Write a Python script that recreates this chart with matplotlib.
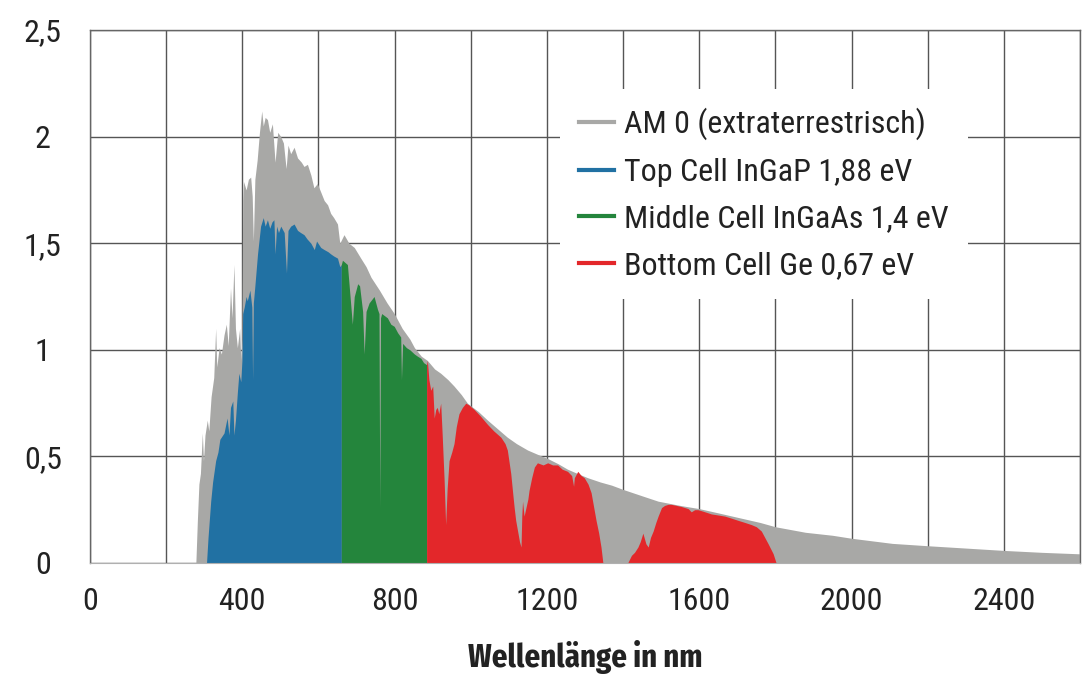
import matplotlib
matplotlib.use('Agg')
import matplotlib.pyplot as plt
from matplotlib.lines import Line2D

# AM0-Spektrum (grau)
am0_wl = [278, 282, 286, 290, 295, 298, 302, 308, 312, 318, 325, 330, 333, 339, 345,
          352, 358, 363, 369, 373, 378, 382, 387, 393, 396, 399, 401, 403, 410, 416,
          422, 426, 429, 433, 439, 445, 451, 455, 460, 466, 472, 479, 486, 493, 501,
          508, 515, 520, 527, 536, 545, 555, 562, 571, 580, 588, 597, 606, 615, 624,
          632, 640, 650, 656, 667, 680, 694, 711, 725, 738, 760, 780, 799, 820, 840,
          852, 870, 886, 905, 921, 940, 956, 975, 991, 1020, 1044, 1070, 1096, 1120,
          1149, 1175, 1202, 1230, 1254, 1280, 1307, 1340, 1370, 1400, 1450, 1492,
          1550, 1600, 1650, 1711, 1760, 1800, 1879, 1950, 2000, 2107, 2200, 2300,
          2400, 2500, 2600]
am0_val = [0.0, 0.20, 0.37, 0.42, 0.61, 0.48, 0.60, 0.67, 0.62, 0.78, 0.87, 1.10, 0.92,
           1.01, 0.98, 1.07, 1.12, 1.02, 1.29, 1.15, 1.40, 1.10, 1.01, 1.10, 0.95, 1.05,
           1.70, 1.79, 1.75, 1.80, 1.81, 1.72, 1.51, 1.80, 1.89, 2.02, 2.12, 2.05, 2.09,
           2.08, 2.02, 2.06, 1.88, 2.02, 2.00, 1.97, 1.85, 1.96, 1.92, 1.95, 1.90, 1.88,
           1.86, 1.87, 1.82, 1.76, 1.78, 1.74, 1.70, 1.68, 1.64, 1.62, 1.59, 1.50, 1.54,
           1.50, 1.48, 1.43, 1.39, 1.34, 1.28, 1.22, 1.17, 1.10, 1.05, 1.01, 0.97, 0.95,
           0.91, 0.89, 0.86, 0.83, 0.79, 0.75, 0.71, 0.67, 0.63, 0.59, 0.56, 0.53, 0.51,
           0.49, 0.465, 0.44, 0.42, 0.40, 0.38, 0.365, 0.345, 0.315, 0.29, 0.27, 0.255,
           0.235, 0.21, 0.19, 0.17, 0.144, 0.13, 0.116, 0.092, 0.081, 0.07, 0.059, 0.05,
           0.043]

# Top Cell InGaP (blau)
top_wl = [306, 310, 317, 322, 330, 336, 341, 352, 360, 365, 369, 375, 378, 382, 387,
          391, 396, 399, 401, 405, 410, 413, 420, 425, 427, 429, 433, 440, 448, 455,
          460, 466, 472, 478, 483, 486, 490, 495, 501, 510, 516, 520, 527, 536, 545,
          553, 562, 570, 580, 589, 595, 606, 615, 625, 632, 640, 650, 656, 660]
top_val = [0.0, 0.12, 0.29, 0.38, 0.48, 0.52, 0.58, 0.61, 0.68, 0.60, 0.73, 0.76, 0.60,
           0.67, 0.80, 0.89, 0.85, 0.95, 1.17, 1.20, 1.25, 1.23, 1.28, 1.20, 0.86, 1.22,
           1.30, 1.45, 1.58, 1.62, 1.58, 1.61, 1.57, 1.60, 1.61, 1.45, 1.58, 1.55, 1.58,
           1.55, 1.36, 1.56, 1.58, 1.59, 1.56, 1.55, 1.54, 1.52, 1.50, 1.47, 1.51, 1.48,
           1.47, 1.46, 1.45, 1.44, 1.43, 1.39, 1.40]

# Middle Cell InGaAs (gruen)
mid_wl = [660, 663, 676, 683, 689, 694, 703, 708, 716, 720, 725, 733, 746, 755, 759,
          761, 763, 766, 781, 790, 799, 808, 816, 818, 821, 831, 840, 852, 860, 869,
          876, 884]
mid_val = [1.40, 1.42, 1.40, 1.25, 1.12, 1.25, 1.31, 1.30, 1.18, 0.98, 1.18, 1.22, 1.25,
           1.19, 1.17, 0.26, 1.15, 1.17, 1.15, 1.12, 1.11, 1.08, 1.06, 0.86, 1.03, 1.01,
           1.00, 0.98, 0.97, 0.96, 0.94, 0.93]

# Bottom Cell Ge (rot)
bot_wl = [884, 886, 890, 895, 900, 904, 908, 912, 916, 921, 925, 930, 934, 938, 943,
          950, 956, 962, 969, 978, 987, 996, 1009, 1025, 1044, 1060, 1079, 1090, 1096,
          1105, 1110, 1114, 1118, 1123, 1128, 1132, 1134, 1136, 1140, 1145, 1150, 1153,
          1160, 1167, 1175, 1190, 1202, 1215, 1228, 1240, 1254, 1265, 1270, 1272, 1281,
          1290, 1298, 1308, 1316, 1322, 1329, 1336, 1342, 1347, 1412, 1422, 1430, 1439,
          1445, 1452, 1460, 1466, 1472, 1479, 1486, 1492, 1501, 1509, 1518, 1527, 1540,
          1553, 1562, 1571, 1579, 1588, 1597, 1615, 1632, 1650, 1667, 1685, 1702, 1720,
          1737, 1750, 1763, 1772, 1781, 1794, 1802]
bot_val = [0.93, 0.95, 0.86, 0.81, 0.83, 0.68, 0.72, 0.73, 0.70, 0.75, 0.60, 0.39, 0.18,
           0.35, 0.48, 0.52, 0.56, 0.64, 0.70, 0.73, 0.75, 0.74, 0.72, 0.69, 0.65, 0.62,
           0.59, 0.56, 0.53, 0.42, 0.33, 0.26, 0.20, 0.15, 0.10, 0.075, 0.22, 0.29, 0.22,
           0.26, 0.30, 0.34, 0.40, 0.45, 0.47, 0.46, 0.47, 0.46, 0.46, 0.44, 0.43, 0.41,
           0.36, 0.40, 0.43, 0.41, 0.40, 0.37, 0.33, 0.27, 0.20, 0.14, 0.075, 0.0, 0.0,
           0.036, 0.05, 0.075, 0.10, 0.14, 0.09, 0.075, 0.12, 0.15, 0.19, 0.22, 0.26,
           0.27, 0.275, 0.275, 0.27, 0.265, 0.26, 0.255, 0.24, 0.25, 0.25, 0.24, 0.23,
           0.225, 0.22, 0.21, 0.20, 0.19, 0.18, 0.17, 0.15, 0.12, 0.09, 0.044, 0.0]

labels = ['AM 0 (extraterrestrisch)', 'Top Cell InGaP 1,88 eV',
          'Middle Cell InGaAs 1,4 eV', 'Bottom Cell Ge 0,67 eV']
colors = ['#a8a8a6', '#2171a3', '#24853c', '#e3272a']

xticks = [0, 400, 800, 1200, 1600, 2000, 2400]
yticks = [0, 0.5, 1, 1.5, 2, 2.5]
ytick_labels = ['0', '0,5', '1', '1,5', '2', '2,5']

plt.rcParams['font.family'] = ['Roboto Condensed', 'DejaVu Sans']
text_color = '#222222'

fig = plt.figure(figsize=(10.88, 6.79), dpi=100)
ax = fig.add_axes([90 / 1088, 116 / 679, 990 / 1088, 533 / 679])

ax.fill_between(am0_wl, 0, am0_val, color=colors[0], lw=0)
ax.fill_between(top_wl, 0, top_val, color=colors[1], lw=0)
ax.fill_between(mid_wl, 0, mid_val, color=colors[2], lw=0)
ax.fill_between(bot_wl, 0, bot_val, color=colors[3], lw=0)

ax.set_xlim(0, 2600)
ax.set_ylim(0, 2.5)
ax.set_xticks(xticks)
ax.set_xticks(range(0, 2601, 200), minor=True)
ax.set_yticks(yticks)
ax.set_yticklabels(ytick_labels)
ax.set_axisbelow(True)
ax.grid(True, which='both', axis='x', color='#555555', lw=1.0)
ax.grid(True, which='major', axis='y', color='#555555', lw=1.0)
ax.tick_params(which='both', length=0, labelsize=23, colors=text_color)
ax.tick_params(axis='x', pad=17)
ax.tick_params(axis='y', pad=34)
for t in ax.get_yticklabels():
    t.set_horizontalalignment('center')

for side in ['left', 'top', 'right']:
    ax.spines[side].set_color('#666666')
    ax.spines[side].set_linewidth(1.0)
ax.spines['bottom'].set_color('#b0b0b0')

ax.set_xlabel('Wellenlänge in nm', fontsize=24, fontweight='bold',
              family=['Fira Sans Extra Condensed', 'Roboto Condensed', 'DejaVu Sans'],
              color=text_color, labelpad=18)

handles = [Line2D([0], [0], color=c, lw=3) for c in colors]
leg = ax.legend(handles, labels, loc='upper left', bbox_to_anchor=(0.4747, 0.8900),
                borderaxespad=0, fontsize=23, frameon=True, facecolor='white',
                edgecolor='none', framealpha=1, fancybox=False, handlelength=1.1,
                handletextpad=0.3, labelspacing=0.55, borderpad=0.6)
for t in leg.get_texts():
    t.set_color(text_color)

fig.savefig('out.png', dpi=100)
